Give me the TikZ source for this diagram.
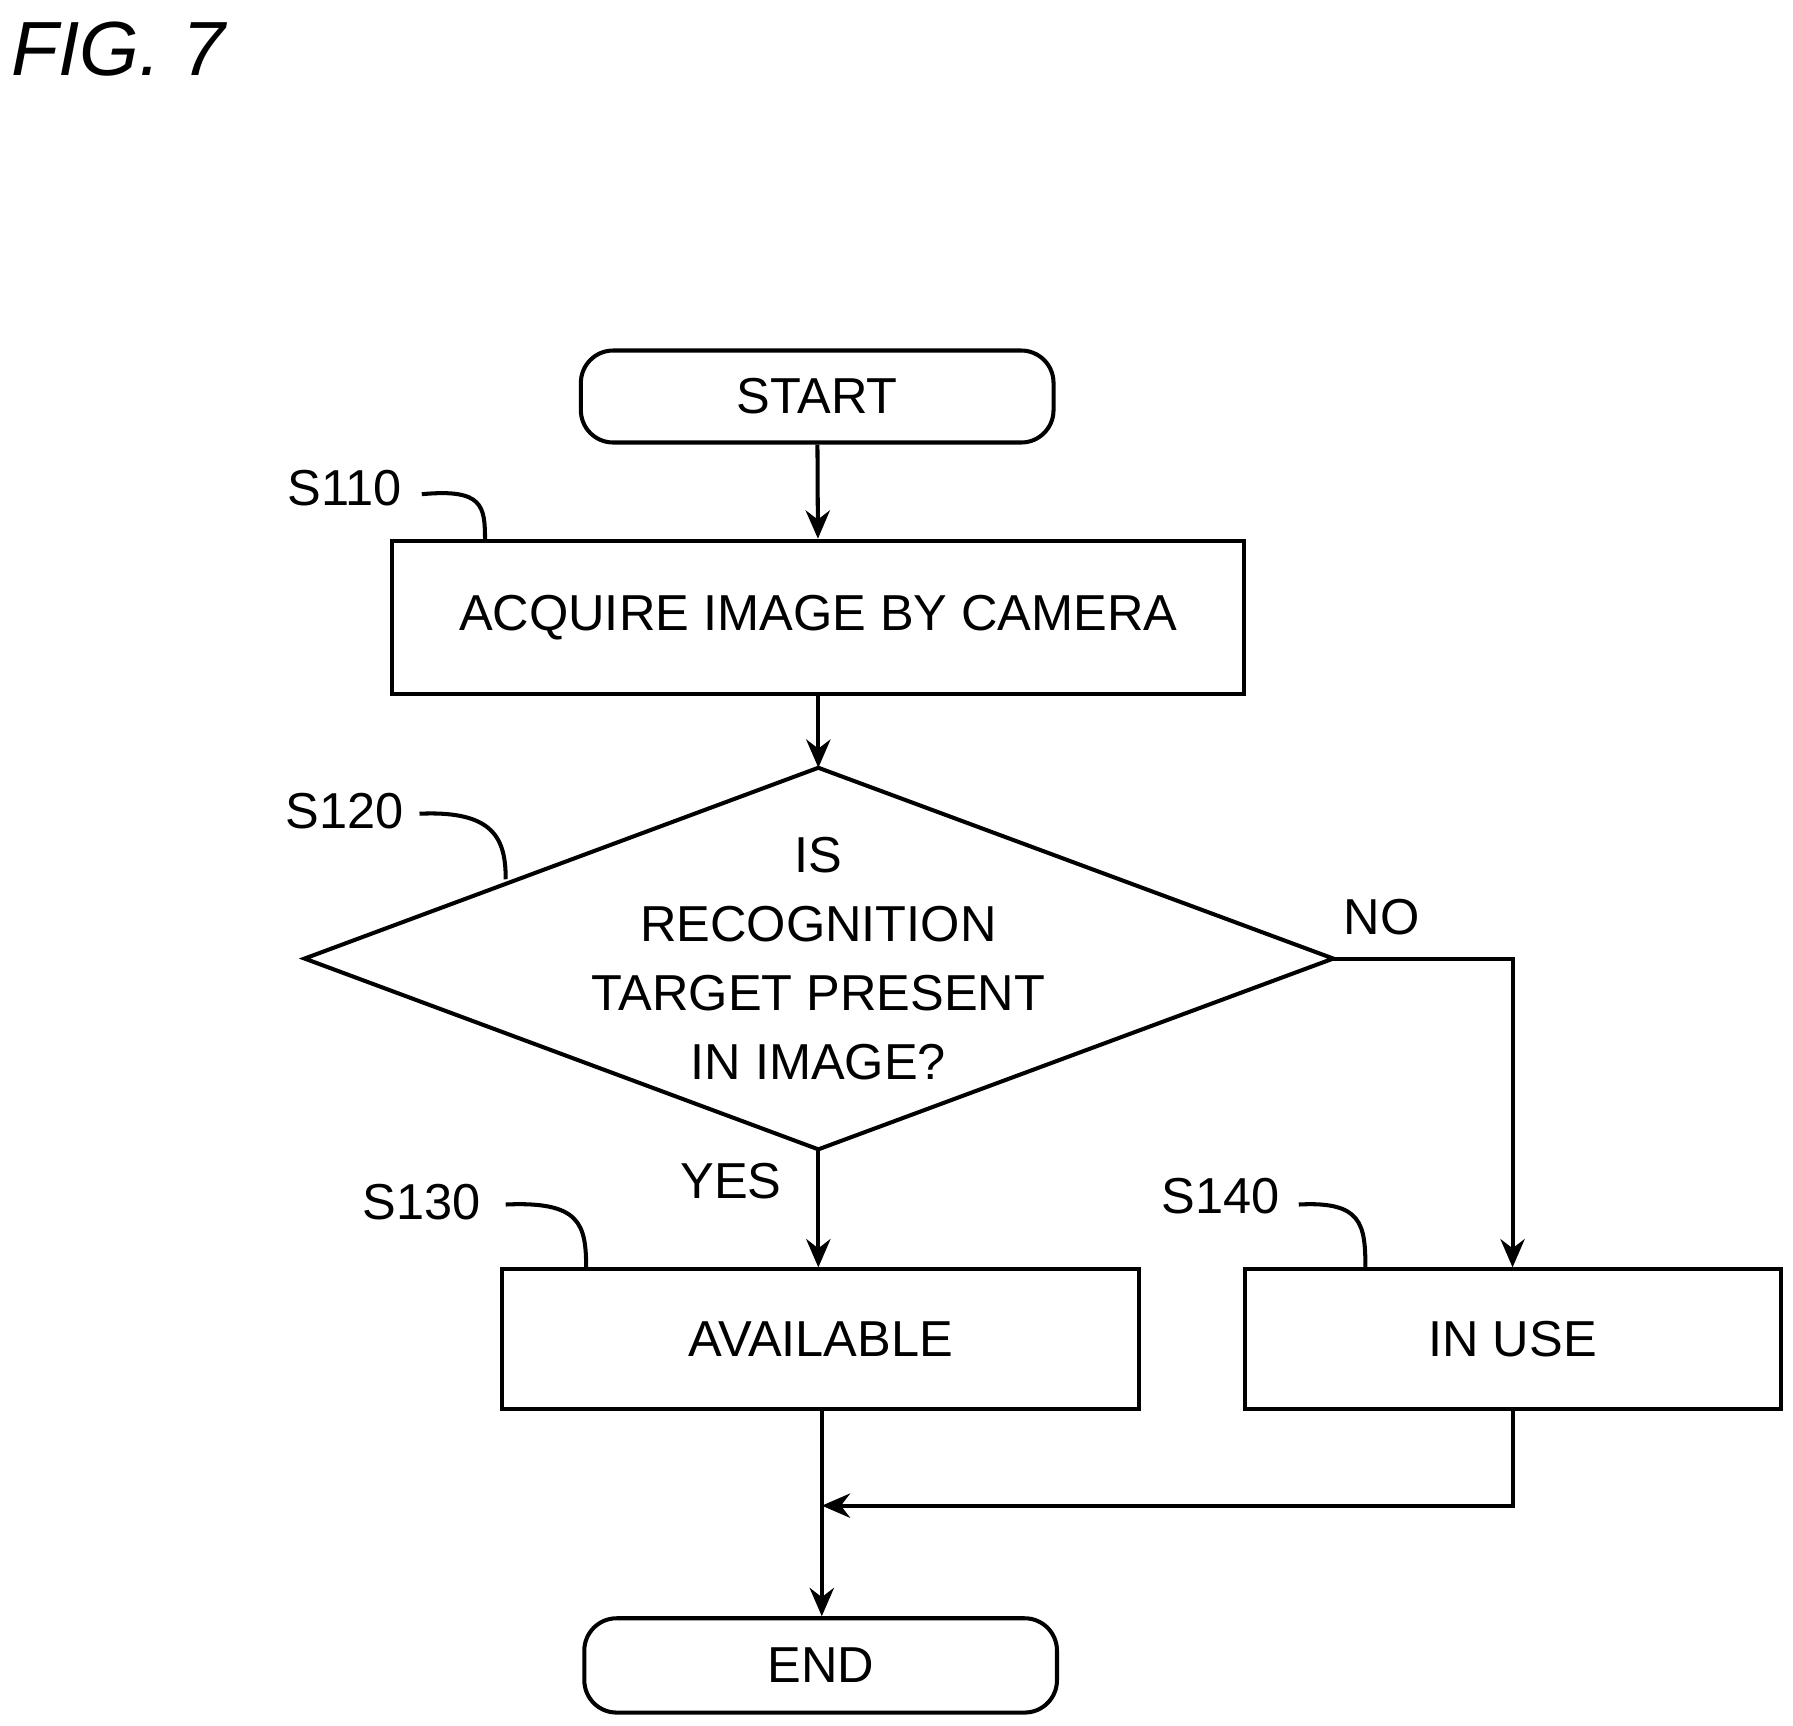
\documentclass[tikz,border=0pt]{standalone}
\usepackage{fontspec}
\setmainfont{Liberation Sans}
\usetikzlibrary{shapes.geometric,arrows.meta}
\begin{document}
\begin{tikzpicture}[x=0.01cm,y=-0.01cm,
  every node/.style={font=\fontsize{12.5}{16}\selectfont},
  box/.style={draw,line width=1pt,minimum width=#1,inner sep=0pt},
  arr/.style={-{Stealth[length=7pt,width=6pt]},line width=1pt},
  ln/.style={line width=1pt}]
\useasboundingbox (0,0) rectangle (1560,1501);
\node[font=\fontsize{19}{22}\selectfont\itshape] (fig) at (103,43) {FIG. 7};
\node[draw,line width=1pt,rounded corners=8pt,minimum width=4.11cm,minimum height=0.80cm] (start) at (711,345) {START};
\node[draw,line width=1pt,minimum width=7.41cm,minimum height=1.33cm] (s110) at (712,537) {ACQUIRE IMAGE BY CAMERA};
\coordinate (dc) at (712,834);
\draw[ln] (265,834) coordinate (dl) -- (712,668) coordinate (dt) -- (1160,834) coordinate (dr) -- (712,1000) coordinate (db) -- cycle;
\node[align=center] (q) at (dc) {IS\\[1pt]RECOGNITION\\[1pt]TARGET PRESENT\\[1pt]IN IMAGE?};
\node[draw,line width=1pt,minimum width=5.54cm,minimum height=1.21cm] (s130) at (714,1165) {AVAILABLE};
\node[draw,line width=1pt,minimum width=4.66cm,minimum height=1.21cm] (s140) at (1316,1165) {IN USE};
\node[draw,line width=1pt,rounded corners=8pt,minimum width=4.11cm,minimum height=0.82cm] (end) at (714,1449) {END};
\draw[arr] (start) -- (s110);
\draw[arr] (s110.south) -- (dt);
\draw[arr] (db) -- (s130.north -| db);
\draw[arr] (dr) -| (s140.north);
\coordinate (m) at (715,1310);
\draw[arr] (s140.south) |- (m);
\draw[arr] (s130.south -| m) -- (end.north -| m);
\node (no) at (1202,798) {NO};
\node (yes) at (636,1028) {YES};
\node (l110) at (300,425) {S110};
\node (l120) at (300,706) {S120};
\node (l130) at (367,1046) {S130};
\node (l140) at (1062,1041) {S140};
\draw[ln] (367,430) .. controls (420,425) and (422,440) .. (422,470);
\draw[ln] (365,708) .. controls (430,705) and (440,730) .. (440,765);
\draw[ln] (440,1048) .. controls (505,1045) and (510,1065) .. (510,1104);
\draw[ln] (1130,1048) .. controls (1185,1045) and (1188,1065) .. (1188,1104);
\end{tikzpicture}
\end{document}
